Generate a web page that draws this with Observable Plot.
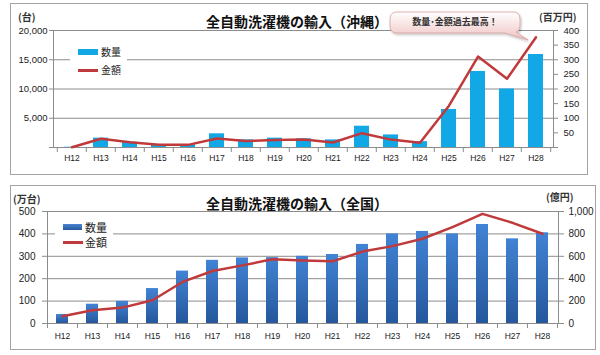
<!DOCTYPE html>
<html><head><meta charset="utf-8">
<script src="https://cdn.jsdelivr.net/npm/d3@7"></script>
<script src="https://cdn.jsdelivr.net/npm/@observablehq/plot@0.6"></script>
<style>
body{margin:0;background:#fff;}
#page{position:relative;width:600px;height:355px;overflow:hidden;font-family:"Noto Sans CJK JP","Noto Sans",sans-serif;}
.box{position:absolute;border:1px solid #a3a3a3;box-sizing:border-box;background:#fff;}
.abs{position:absolute;white-space:nowrap;line-height:1;}
.chart{position:absolute;left:0;}
.title{font-weight:bold;font-size:14px;color:#111;transform:translate(-50%,-50%);}
.unit{font-size:10px;font-weight:bold;color:#333;transform:translateY(-50%);}
.leg{position:absolute;background:#fff;}
.legtxt{font-size:10px;color:#222;transform:translateY(-50%);}
</style>
</head><body>
<div id="page">
  <div class="box" style="left:10px;top:3px;width:578px;height:172px;"></div>
  <div class="box" style="left:10px;top:185px;width:586px;height:165px;"></div>
  <div id="c1" class="chart" style="top:0px;"></div>
  <div id="c2" class="chart" style="top:180px;"></div>

  <div class="abs title" style="left:297px;top:21px;">全自動洗濯機の輸入（沖縄）</div>
  <div class="abs unit" style="left:18px;top:17px;">(台)</div>
  <div class="abs unit" style="left:539px;top:17px;">(百万円)</div>

  <div class="abs title" style="left:297px;top:203px;">全自動洗濯機の輸入（全国）</div>
  <div class="abs unit" style="left:13px;top:199px;">(万台)</div>
  <div class="abs unit" style="left:546px;top:197px;">(億円)</div>

  <div class="leg" style="left:70px;top:44px;width:57px;height:34px;"></div>
  <div class="abs" style="left:78px;top:49px;width:20px;height:6px;background:#12a8e6;"></div>
  <div class="abs legtxt" style="left:101px;top:52px;">数量</div>
  <div class="abs" style="left:78px;top:69px;width:20px;height:2.5px;background:#c0393b;"></div>
  <div class="abs legtxt" style="left:101px;top:70px;">金額</div>

  <div class="leg" style="left:55px;top:218px;width:58px;height:32px;"></div>
  <div class="abs" style="left:63px;top:224px;width:19px;height:6px;background:linear-gradient(#4a85d2,#285a9f);"></div>
  <div class="abs legtxt" style="left:85px;top:227px;font-size:11px;">数量</div>
  <div class="abs" style="left:63px;top:241px;width:20px;height:3px;background:#c0393b;"></div>
  <div class="abs legtxt" style="left:85px;top:242px;font-size:11px;">金額</div>

  <svg class="abs" width="600" height="355" style="left:0;top:0;pointer-events:none;overflow:visible">
    <defs>
      <linearGradient id="cg" x1="0" y1="0" x2="0" y2="1">
        <stop offset="0" stop-color="#ffffff"/>
        <stop offset="1" stop-color="#f0c2c2"/>
      </linearGradient>
      <filter id="sh" x="-10%" y="-30%" width="130%" height="180%">
        <feDropShadow dx="1" dy="1.5" stdDeviation="1" flood-color="#000" flood-opacity="0.25"/>
      </filter>
    </defs>
    <path d="M397,12 H513 Q520,12 520,19 V26 Q520,31 516,32 L528,40 L505,33 H397 Q390,33 390,26 V19 Q390,12 397,12 Z"
      fill="url(#cg)" stroke="#d4a0a0" stroke-width="0.8" filter="url(#sh)"/>
    <text x="455" y="23" text-anchor="middle" dominant-baseline="middle" font-size="9" font-weight="bold" fill="#333" font-family="Noto Sans CJK JP">数量･金額過去最高！</text>
  </svg>
</div>
<script>
const cats = ["H12","H13","H14","H15","H16","H17","H18","H19","H20","H21","H22","H23","H24","H25","H26","H27","H28"];
// 沖縄: 数量 (台), 金額 (百万円)
const okiQty = [50,1600,900,460,460,2340,1300,1600,1480,1300,3640,2150,1000,6500,13000,10000,15900];
const okiAmt = [1,30,18,9,9,31,22,26,27,17,49,27,16,143,311,235,377];
// 全国: 数量 (万台), 金額 (億円)
const natQty = [40,86,99,156,234,282,293,294,300,308,353,400,411,400,442,378,405];
const natAmt = [65,118,142,208,371,469,519,573,562,555,642,691,757,860,979,899,801];

const okiLeftTicks = [0,5000,10000,15000,20000];
const okiRightTicks = [0,50,100,150,200,250,300,350,400];
const natLeftTicks = [0,100,200,300,400,500];
const natRightTicks = [0,200,400,600,800,1000];

const grid = "#8c8c8c";
const numFont = "'Liberation Sans', Arial, sans-serif";

// ---- Chart 1 (沖縄)
const oki = cats.map((c,i)=>({cat:c, qty:okiQty[i], amt:okiAmt[i]}));
const k1 = okiLeftTicks[okiLeftTicks.length-1] / okiRightTicks[okiRightTicks.length-1];
const m1 = {l:53, r:47, t:30, b:28, h:175};
const step1 = (600 - m1.l - m1.r) / cats.length;
const tick1 = 5 * 20000 / (m1.h - m1.t - m1.b);

const p1 = Plot.plot({
  width:600, height:m1.h, marginLeft:m1.l, marginRight:m1.r, marginTop:m1.t, marginBottom:m1.b,
  style:{fontFamily:numFont, color:"#222", background:"transparent", overflow:"visible"},
  x:{type:"band", domain:cats, paddingInner:0.5, paddingOuter:0.25, axis:null, label:null},
  y:{domain:[0,20000], axis:null, label:null},
  marks:[
    Plot.gridY(okiLeftTicks.filter(d=>d>0), {stroke:grid, strokeOpacity:1}),
    Plot.barY(oki, {x:"cat", y:"qty", fill:"#12a8e6"}),
    Plot.ruleY([0], {stroke:grid}),
    Plot.frame({anchor:"left", stroke:grid}),
    Plot.frame({anchor:"right", stroke:grid}),
    Plot.ruleX(cats, {x:d=>d, dx:-step1/2, y1:0, y2:-tick1, stroke:grid}),
    Plot.ruleX([cats[cats.length-1]], {x:d=>d, dx:step1/2, y1:0, y2:-tick1, stroke:grid}),
    Plot.line(oki, {x:"cat", y:d=>d.amt*k1, stroke:"#c0393b", strokeWidth:2.5}),
    Plot.axisY(okiLeftTicks, {anchor:"left", label:null, tickSize:4, tickPadding:2, stroke:grid, fontSize:9.5,
      tickFormat:d=>d===0?"":d3.format(",")(d)}),
    Plot.axisY(okiRightTicks.map(v=>v*k1), {anchor:"right", label:null, tickSize:4, tickPadding:6, stroke:grid, fontSize:9.5,
      tickFormat:d=>d===0?"":String(d/k1)}),
    Plot.axisX({label:null, tickSize:0, tickPadding:7, fontSize:8.5})
  ]
});
document.getElementById("c1").append(p1);

// ---- Chart 2 (全国)
const nat = cats.map((c,i)=>({cat:c, qty:natQty[i], amt:natAmt[i]}));
const k2 = natLeftTicks[natLeftTicks.length-1] / natRightTicks[natRightTicks.length-1];
const m2 = {l:47, r:42, t:31, b:32, h:175};
const step2 = (600 - m2.l - m2.r) / cats.length;
const tick2 = 5 * 500 / (m2.h - m2.t - m2.b);

const p2 = Plot.plot({
  width:600, height:m2.h, marginLeft:m2.l, marginRight:m2.r, marginTop:m2.t, marginBottom:m2.b,
  style:{fontFamily:numFont, color:"#222", background:"transparent", overflow:"visible"},
  x:{type:"band", domain:cats, paddingInner:0.59, paddingOuter:0.295, axis:null, label:null},
  y:{domain:[0,500], axis:null, label:null},
  marks:[
    () => {
      const defs = d3.create("svg:defs");
      const g = defs.append("linearGradient").attr("id","bg2").attr("x1",0).attr("y1",0).attr("x2",0).attr("y2",1);
      g.append("stop").attr("offset",0).attr("stop-color","#4283d4");
      g.append("stop").attr("offset",1).attr("stop-color","#25579c");
      return defs.node();
    },
    Plot.gridY(natLeftTicks.filter(d=>d>0), {stroke:grid, strokeOpacity:1}),
    Plot.barY(nat, {x:"cat", y:"qty", fill:"url(#bg2)"}),
    Plot.ruleY([0], {stroke:grid}),
    Plot.frame({anchor:"left", stroke:grid}),
    Plot.frame({anchor:"right", stroke:grid}),
    Plot.ruleX(cats, {x:d=>d, dx:-step2/2, y1:0, y2:-tick2, stroke:grid}),
    Plot.ruleX([cats[cats.length-1]], {x:d=>d, dx:step2/2, y1:0, y2:-tick2, stroke:grid}),
    Plot.line(nat, {x:"cat", y:d=>d.amt*k2, stroke:"#c0393b", strokeWidth:2.5}),
    Plot.axisY(natLeftTicks, {anchor:"left", label:null, tickSize:5, tickPadding:7, stroke:grid, fontSize:10}),
    Plot.axisY(natRightTicks.map(v=>v*k2), {anchor:"right", label:null, tickSize:5, tickPadding:5, stroke:grid, fontSize:10,
      tickFormat:d=>d3.format(",")(d/k2)}),
    Plot.axisX({label:null, tickSize:0, tickPadding:9, fontSize:8.5})
  ]
});
document.getElementById("c2").append(p2);
</script>
</body></html>
